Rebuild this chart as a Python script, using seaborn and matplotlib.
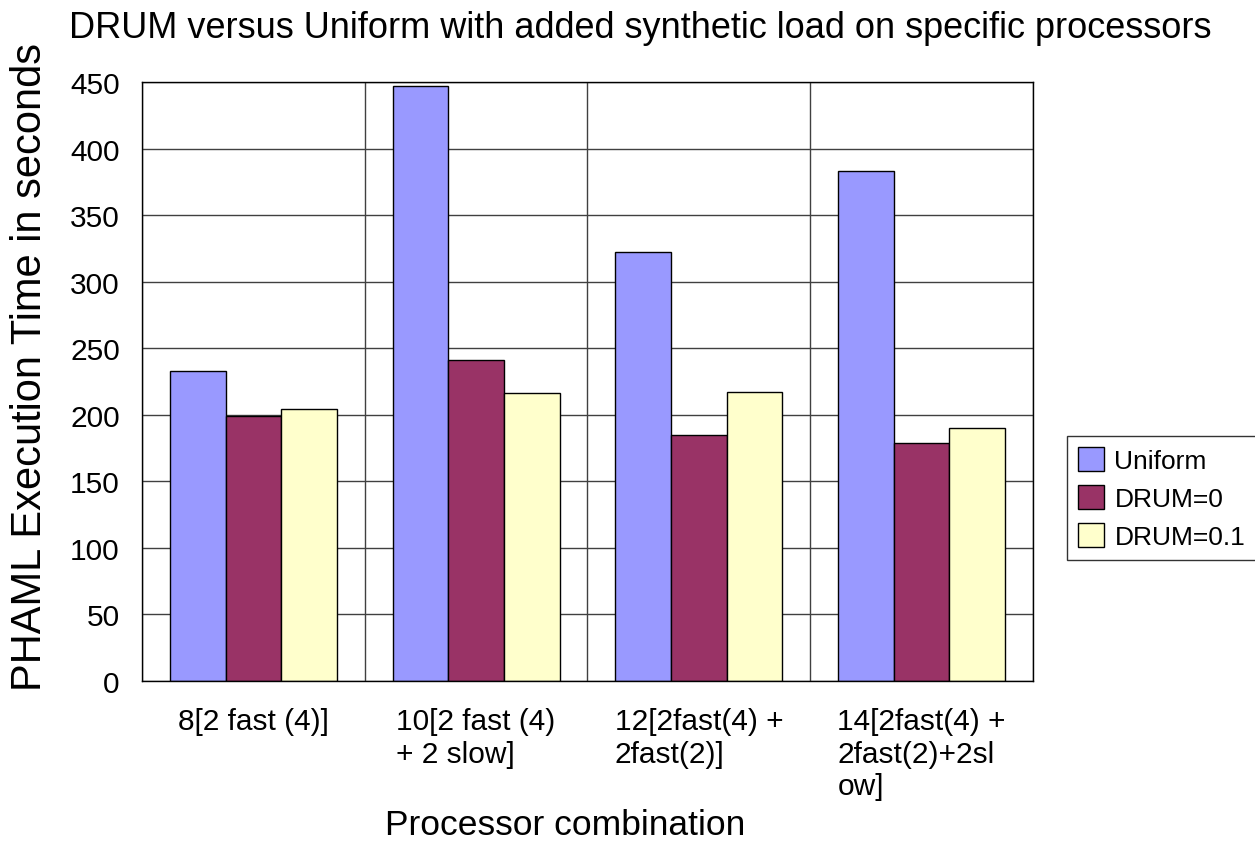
import matplotlib
matplotlib.use("Agg")
import matplotlib.pyplot as plt
import seaborn as sns
import pandas as pd
import numpy as np

# Processor combinations (x categories)
combos = [
    "8[2 fast (4)]",
    "10[2 fast (4)\n+ 2 slow]",
    "12[2fast(4) +\n2fast(2)]",
    "14[2fast(4) +\n2fast(2)+2sl\now]",
]
series_names = ["Uniform", "DRUM=0", "DRUM=0.1"]

# PHAML execution times (seconds)
uniform = [233, 447, 322, 383]
drum_0 = [199, 241, 185, 179]
drum_01 = [204, 216, 217, 190]

colors = ["#9999FF", "#993366", "#FFFFCC"]

df = pd.DataFrame({
    "combo": combos * 3,
    "series": sum([[s] * len(combos) for s in series_names], []),
    "time": uniform + drum_0 + drum_01,
})

sns.set_style("white")
plt.rcParams["font.family"] = ["Liberation Sans", "DejaVu Sans"]
plt.rcParams["text.color"] = "black"
plt.rcParams["xtick.color"] = "black"
plt.rcParams["ytick.color"] = "black"
plt.rcParams["axes.labelcolor"] = "black"

fig = plt.figure(figsize=(12.55, 8.62), dpi=100)
ax = fig.add_axes([142 / 1255, (862 - 682) / 862, (1033 - 142) / 1255, (682 - 83) / 862])

sns.barplot(data=df, x="combo", y="time", hue="series", order=combos,
            hue_order=series_names, palette=colors, saturation=1,
            edgecolor="black", linewidth=1, width=0.75, ax=ax)

# axes limits and ticks
ax.set_xlim(-0.5, len(combos) - 0.5)
ax.set_ylim(0, 450)
ax.set_yticks(np.arange(0, 451, 50))
ax.set_xticks(range(len(combos)))
ax.set_xticklabels(combos, fontsize=21.5, ha="center", multialignment="left")
ax.set_xticks(np.arange(-0.5, len(combos), 1.0), minor=True)
ax.tick_params(axis="x", which="major", length=0, pad=19, labelcolor="black")
ax.tick_params(axis="x", which="minor", length=10, width=1, color="black", direction="out")
ax.tick_params(axis="y", which="major", length=10, width=1, color="black",
               direction="out", labelsize=21.5, pad=6, labelcolor="black")
ax.set_xlabel("")
ax.set_ylabel("")

# gridlines: horizontal at each tick, vertical between categories
ax.set_axisbelow(True)
ax.yaxis.grid(True, color="#404040", linewidth=1)
ax.xaxis.grid(True, which="minor", color="#404040", linewidth=1)
ax.xaxis.grid(False, which="major")
for sp in ax.spines.values():
    sp.set_visible(True)
    sp.set_color("black")
    sp.set_linewidth(1)

# legend
handles, labels = ax.get_legend_handles_labels()
if ax.get_legend() is not None:
    ax.get_legend().remove()
leg = fig.legend(handles, labels, loc="upper left",
                 bbox_to_anchor=(1067 / 1255, (862 - 437) / 862),
                 bbox_transform=fig.transFigure, fontsize=19,
                 frameon=True, fancybox=False, edgecolor="black",
                 handlelength=1.0, handleheight=1.05, handletextpad=0.4,
                 labelspacing=0.45, borderpad=0.4, borderaxespad=0)
leg.get_frame().set_linewidth(1)
for h in leg.legend_handles:
    h.set_edgecolor("black")
    h.set_linewidth(1)

# titles
fig.text(0.51, (862 - 38) / 862, "DRUM versus Uniform with added synthetic load on specific processors",
         ha="center", va="baseline", fontsize=26)
fig.text(0.024, 0.574, "PHAML Execution Time in seconds", rotation=90,
         ha="center", va="center", fontsize=30)
fig.text(0.45, 0.042, "Processor combination", ha="center", va="center", fontsize=25.5)

fig.savefig("out.png", dpi=100)
